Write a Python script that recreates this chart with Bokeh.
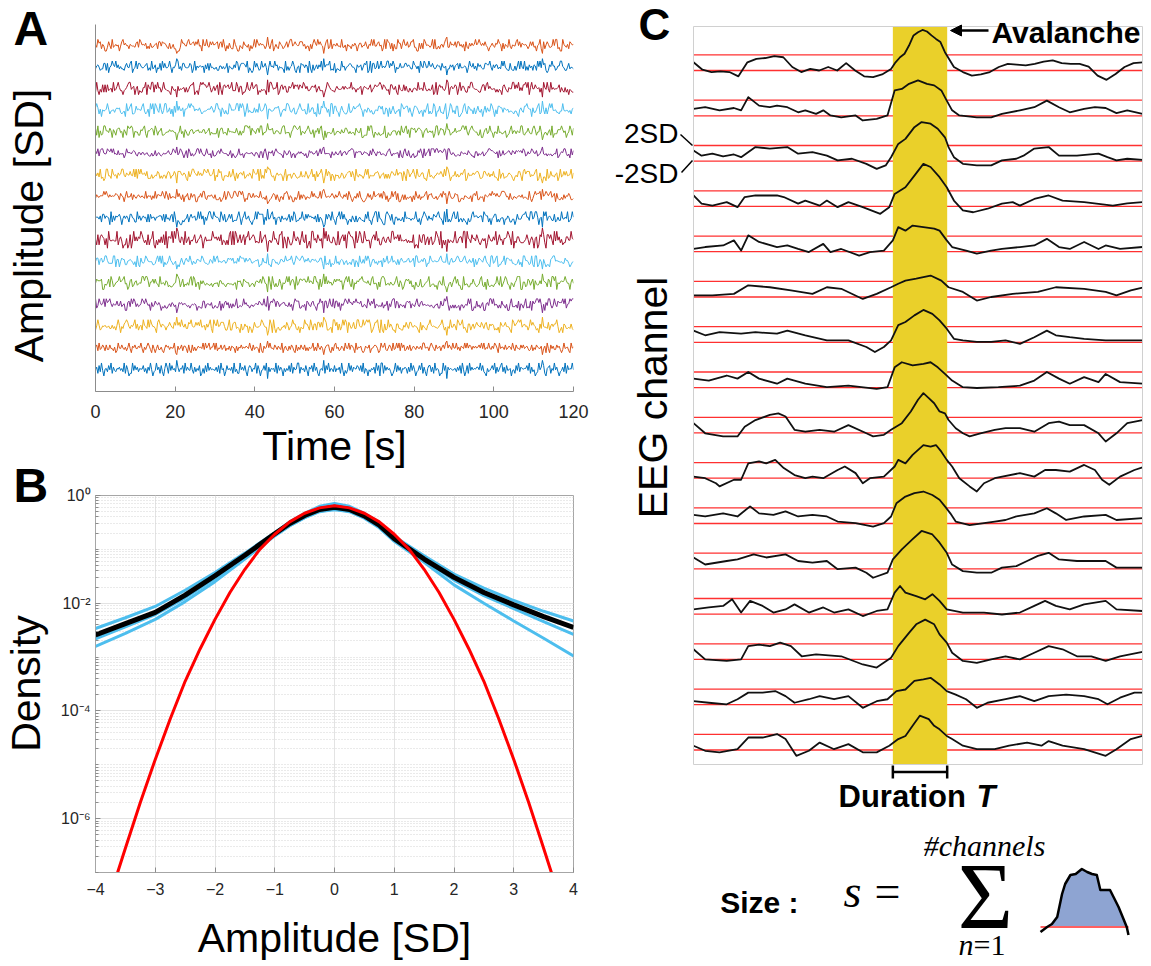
import numpy as np
from bokeh.plotting import figure
from bokeh.layouts import row, column
from bokeh.models import Range1d, FixedTicker, Label, Arrow, NormalHead, CustomJSTickFormatter
from bokeh.embed import file_html
from bokeh.resources import INLINE

SANS = "Liberation Sans"
SERIF = "Liberation Serif"
GREY = "#8c8c8c"
DARK = "#262626"

# ---------------- Panel A data ----------------
A_TICKS = [0, 20, 40, 60, 80, 100, 120]
A_COLORS = ["#0072BD", "#D95319", "#EDB120", "#7E2F8E", "#77AC30", "#4DBEEE", "#A2142F"]
A_AMP = [1.0, 0.75, 1.0, 0.9, 1.0, 0.85, 1.3, 1.0, 0.8, 0.9, 0.7, 0.9, 1.0, 0.95, 0.9, 0.9]
A_OFFSET = [0, 37, 91, 143, 211, 267, 318, 359, 23, 77, 129, 181, 233, 289, 341, 397]
A_STRIDE = [1, 3, 7, 9, 11, 13, 17, 19, 21, 23, 27, 29, 31, 33, 37, 39]
A_LEVELS = [-1.0, -0.6, -0.35, -0.15, -0.05, 0.05, 0.15, 0.35, 0.6, 1.0]
A_NOISE = ("4718293056" "2849173265" "7362918401" "1938472655" "8261739402"
           "3947182069" "7193846257" "2658193743" "9417263801" "6182937454"
           "3728194602" "8463719251" "1947382068" "7265918403" "4839172656"
           "2918374062" "6382917459" "9174628307" "5829371046" "3718492652"
           "8264719303" "1493827658" "7382916404" "2647193809" "9183746201"
           "4928371657" "6172938402" "3849172068" "8271936401" "1938274653"
           "5627381940" "2819374657" "7493821062" "3684917258" "9271834603"
           "4183927656" "6839172401" "2947381067" "8163947202" "3729184659")
A_SPIKE_T = [20.4, 43.2, 57.3, 88.2, 112.2]
A_DT = 0.3
A_SCALE = 0.3

# ---------------- Panel B data (log10 density) ----------------
B_XTICKS = [-4, -3, -2, -1, 0, 1, 2, 3, 4]
B_YTICKS = [1e-6, 1e-4, 1e-2, 1e0]
B_X = [-4, -3.5, -3, -2.5, -2, -1.5, -1, -0.75, -0.5, -0.25, 0, 0.25, 0.5, 0.75, 1, 1.5, 2, 2.5, 3, 3.5, 4]
B_BLACK = [-2.59, -2.38, -2.17, -1.85, -1.49, -1.11, -0.71, -0.52, -0.37, -0.26, -0.22, -0.26, -0.38, -0.55, -0.8, -1.18, -1.52, -1.8, -2.03, -2.25, -2.45]
B_BLUE1 = [-2.47, -2.27, -2.06, -1.76, -1.43, -1.07, -0.69, -0.49, -0.33, -0.2, -0.15, -0.2, -0.33, -0.5, -0.76, -1.12, -1.46, -1.72, -1.95, -2.15, -2.33]
B_BLUE2 = [-2.66, -2.44, -2.21, -1.9, -1.54, -1.15, -0.74, -0.56, -0.41, -0.29, -0.26, -0.29, -0.41, -0.58, -0.82, -1.2, -1.57, -1.86, -2.1, -2.34, -2.58]
B_BLUE3 = [-2.8, -2.56, -2.3, -1.97, -1.6, -1.18, -0.75, -0.56, -0.41, -0.3, -0.26, -0.3, -0.42, -0.6, -0.85, -1.24, -1.66, -2.0, -2.33, -2.65, -2.98]
B_RX = [-3.63, -3.5, -3.25, -3, -2.75, -2.5, -2.25, -2, -1.75, -1.5, -1.25, -1, -0.75, -0.5, -0.25, 0,
        0.25, 0.5, 0.75, 1, 1.25, 1.5, 1.75, 2, 2.25, 2.5, 2.75, 3, 3.25, 3.5, 3.63]
B_RED = [-7.0, -6.55, -5.7, -4.9, -4.15, -3.45, -2.85, -2.3, -1.8, -1.37, -1.0, -0.72, -0.49, -0.33, -0.23, -0.19,
         -0.23, -0.33, -0.49, -0.72, -1.0, -1.37, -1.8, -2.3, -2.85, -3.45, -4.15, -4.9, -5.7, -6.55, -7.0]

# ---------------- Panel C data (time, amplitude in SD) ----------------
C_BAND = [44.4, 56.5]
C_THR = 2.0
C_CH01 = [(0,0.1),(2,-1.8),(4,-2.4),(6,-2.2),(8,-2.4),(10,-3.5),(12,0.1),(14,1.0),(16,1.2),(18,1.7),(20,1.4),(22,-1.1),(24,-2.4),(26,-1.6),(28,-2.0),(30,-1.1),(32,-2.0),(34,-0.1),(36,-2.0),(38,-3.5),(40,-3.7),(42,-3.0),(44,-1.6),(45,0.1),(46,1.4),(47,2.3),(48,4.4),(49,7.0),(50,7.8),(51,8.4),(52,8.0),(53,7.0),(54,6.1),(55,5.3),(56,2.7),(58,-1.1),(60,-2.4),(62,-3.3),(64,-3.0),(66,-2.4),(68,-1.1),(70,-0.3),(72,-0.5),(74,-0.7),(76,-0.3),(78,0.3),(80,0.6),(82,-0.1),(84,-0.3),(86,-0.3),(88,-1.0),(90,-3.3),(92,-4.4),(94,-2.9),(96,-1.1),(98,-0.1),(100,0.1)]
C_CH02 = [(0,-0.2),(2.6,0.2),(5.8,-0.6),(9.0,0.0),(10.6,-0.6),(12.2,2.8),(14.6,0.6),(17.0,0.2),(18.6,0.6),(20.9,0.2),(23.3,-1.1),(24.9,-0.6),(27.3,-1.5),(28.9,-0.6),(30.5,-1.9),(32.9,-2.4),(36.1,-1.9),(37.7,-3.2),(40.8,-2.8),(43.2,-1.9),(44.8,4.5),(46.4,4.9),(48.0,6.2),(50.0,7.1),(52.0,6.2),(53.6,5.8),(55.2,4.5),(56.4,1.9),(57.6,-0.6),(59.2,-1.9),(63.1,-2.4),(66.3,-2.4),(68.7,-1.5),(72.7,-0.6),(75.9,0.2),(78.7,1.9),(81.4,0.2),(83.8,-1.1),(87.0,-0.2),(89.4,0.2),(91.8,0.0),(94.2,-1.3),(96.6,-0.6),(100,-1.5)]
C_CH03 = [(0,0.7),(1.8,-0.6),(4.2,-0.1),(6.6,-0.8),(9.0,-0.3),(10.6,-1.0),(13.8,1.6),(17.0,1.2),(20.9,1.6),(23.3,-0.1),(26.5,0.3),(29.7,-0.6),(32.1,-1.8),(35.3,-1.4),(38.5,-2.7),(40.8,-4.0),(42.8,-3.1),(44.0,-1.0),(45.6,2.4),(47.2,3.7),(49.2,6.7),(50.8,8.0),(52.8,7.6),(54.4,6.3),(56.0,4.1),(56.8,1.6),(58.0,-1.0),(60.0,-2.7),(63.1,-3.1),(66.3,-3.1),(68.7,-1.8),(71.9,-1.4),(73.5,-0.6),(75.9,1.2),(79.1,1.6),(81.4,-0.6),(85.4,-0.6),(90.2,-0.1),(92.2,-1.0),(94.2,-1.8),(96.6,-1.4),(100,-1.7)]
C_CH04 = [(0,0.8),(1.8,-1.3),(4.2,-1.8),(7.4,-0.9),(9.8,-2.2),(11.4,0.4),(13.8,0.8),(18.6,0.8),(20.1,0.4),(23.3,-1.3),(24.9,-0.5),(28.1,-1.8),(29.7,-0.5),(32.1,-2.2),(34.5,-0.9),(37.7,-2.2),(41.6,-3.9),(43.6,-2.2),(44.8,1.2),(47.2,2.9),(49.2,5.9),(51.2,8.9),(52.8,8.1),(54.8,5.5),(56.4,2.9),(58.0,-0.5),(60.0,-3.0),(62.3,-3.5),(65.5,-2.6),(68.7,-1.3),(71.1,-0.9),(72.7,-1.8),(75.9,-0.1),(79.1,0.8),(82.2,-0.5),(87.0,-0.9),(93.4,-1.8),(96.6,-1.2),(100,-0.9)]
C_CH05 = [(0,-1.3),(2.6,-0.8),(6.6,-0.4),(9.0,0.9),(10.6,-1.7),(12.2,2.2),(14.6,0.5),(18.6,-0.8),(20.9,-0.4),(23.3,-1.3),(25.7,-2.1),(28.9,0.0),(30.5,-2.1),(32.9,-1.3),(36.9,-3.0),(39.3,-2.1),(42.4,-1.7),(44.4,0.9),(45.6,4.3),(47.2,3.4),(48.8,4.7),(51.2,4.3),(53.6,3.9),(54.8,3.4),(56.4,0.9),(57.6,-0.8),(60.7,-1.7),(63.1,-2.5),(66.3,-1.7),(68.7,-1.3),(72.7,-0.8),(75.9,-0.4),(78.7,1.3),(81.4,-0.8),(83.8,-1.3),(87.0,0.5),(90.2,-1.3),(91.8,-0.4),(95.0,-1.3),(100,-0.8)]
C_CH06 = [(0,-1.6),(4.2,-1.6),(9.0,-1.2),(12.2,1.0),(17.0,0.5),(21.7,-0.3),(26.5,-1.2),(29.7,0.5),(32.9,0.1),(37.7,-2.5),(40.8,-1.2),(44.0,0.5),(45.6,1.4),(47.2,2.2),(49.6,2.7),(52.8,3.5),(55.2,2.2),(56.8,0.5),(60.0,-0.7),(63.1,-2.9),(66.3,-2.0),(71.1,-1.2),(76.7,-0.7),(80.7,0.5),(87.0,0.1),(91.8,-0.7),(94.2,-1.6),(97.4,-0.3),(100,0.4)]
C_CH07 = [(0,1.0),(2.6,-0.2),(5.8,0.6),(10.6,0.2),(13.8,0.6),(18.6,0.2),(20.9,1.0),(24.9,-0.2),(29.7,-1.5),(34.5,-1.5),(38.5,-3.2),(40.4,-4.5),(42.4,-3.2),(44.0,-1.5),(45.6,2.4),(47.2,3.2),(49.2,4.9),(51.2,6.3),(53.2,5.3),(54.8,3.6),(56.4,1.5),(58.0,-1.1),(60.0,-1.5),(63.1,-1.9),(66.3,-1.9),(69.5,-1.5),(72.7,-2.4),(75.9,-0.7),(78.7,1.0),(80.7,-0.2),(83.8,-0.7),(87.0,-1.1),(91.8,-1.5),(100,-1.5)]
C_CH08 = [(0,0.3),(3.4,-0.2),(7.4,1.1),(9.8,0.3),(12.2,2.0),(14.6,0.3),(18.6,-1.0),(20.9,0.3),(24.9,-1.0),(29.7,-1.9),(34.5,-1.5),(40.8,-2.3),(43.2,-1.9),(44.8,3.2),(46.4,4.5),(48.8,3.7),(51.2,4.1),(52.8,4.5),(54.4,3.2),(56.0,1.5),(57.6,-0.2),(60.0,-1.9),(63.1,-2.1),(67.9,-1.9),(72.7,-1.5),(75.9,-0.2),(78.7,2.0),(81.4,0.3),(83.8,-1.0),(87.0,0.7),(90.2,-0.6),(91.8,1.5),(95.0,-0.6),(100,-1.0)]
C_CH09 = [(0,0.5),(2.6,-2.1),(6.6,-2.9),(9.8,-2.9),(11.4,-0.4),(13.8,1.3),(17.0,2.6),(18.9,3.0),(20.5,2.2),(22.5,-1.2),(24.9,-1.7),(28.1,-1.2),(31.3,-1.7),(34.5,0.0),(38.5,-2.1),(40.0,-2.9),(42.4,-2.5),(44.0,-1.2),(46.4,0.5),(48.4,3.5),(50.0,6.5),(51.2,8.2),(52.4,6.9),(53.6,5.6),(54.8,3.5),(56.0,3.0),(56.8,1.3),(58.4,-0.8),(60.0,-2.1),(61.5,-2.9),(63.9,-2.1),(67.1,-1.2),(69.5,-0.8),(72.7,-0.8),(75.9,-1.7),(79.1,0.5),(81.4,0.9),(83.8,0.0),(87.0,0.0),(90.2,-2.1),(91.8,-4.2),(94.2,-2.1),(96.6,0.5),(100,1.3)]
C_CH10 = [(0,-1.6),(2.6,-2.0),(5.0,-3.3),(5.8,-4.1),(9.0,-2.4),(10.6,-2.4),(12.2,1.8),(14.6,2.3),(16.2,1.8),(18.2,2.7),(20.1,0.6),(22.5,-1.2),(24.9,-2.0),(26.5,-1.6),(28.9,-2.0),(32.1,0.1),(33.7,1.0),(36.1,-0.7),(37.7,-3.3),(39.3,-2.0),(42.4,-1.6),(44.8,1.0),(45.6,2.7),(47.2,1.8),(48.8,4.0),(51.2,6.5),(52.8,6.1),(54.0,6.5),(55.2,4.8),(56.4,2.7),(57.6,1.0),(59.2,-2.0),(61.5,-4.1),(63.1,-5.4),(64.7,-3.3),(67.1,-2.0),(72.7,-0.7),(75.9,-1.6),(78.3,0.1),(80.7,0.1),(83.8,-0.3),(87.0,1.4),(89.4,0.1),(91.0,-2.4),(92.6,-3.7),(95.0,-1.6),(98.2,0.1),(100,0.8)]
C_CH11 = [(0,0.2),(2.6,-0.2),(6.6,0.6),(9.8,-0.2),(12.6,2.4),(14.6,0.6),(17.8,0.2),(20.5,1.1),(23.3,-0.2),(26.5,0.2),(29.7,-0.2),(32.1,-1.5),(36.1,-1.9),(40.0,-2.8),(42.4,-1.9),(44.0,-0.2),(45.2,3.2),(47.2,4.9),(49.2,5.8),(51.2,6.2),(53.2,5.3),(54.8,4.1),(56.0,2.4),(57.2,0.6),(58.4,-1.5),(61.5,-2.4),(64.7,-1.9),(67.1,-1.5),(69.5,-1.1),(71.9,-0.2),(75.9,0.6),(78.7,1.9),(80.7,0.6),(83.0,-1.1),(87.0,-0.2),(91.8,0.2),(94.2,-1.1),(100,-0.6)]
C_CH12 = [(0,0.9),(2.6,-0.9),(7.4,0.0),(9.8,0.4),(13.4,1.7),(16.2,0.9),(20.5,1.7),(23.3,0.0),(26.5,-0.4),(29.7,0.0),(32.1,-2.1),(36.1,-1.7),(38.5,-3.0),(40.0,-4.3),(43.2,-3.0),(44.4,0.4),(46.4,3.0),(48.8,5.6),(50.8,7.7),(53.2,6.8),(54.8,4.7),(56.4,2.1),(57.6,-0.9),(60.0,-2.6),(63.1,-3.0),(66.3,-3.0),(68.7,-1.7),(71.9,-1.3),(74.3,0.0),(76.7,1.3),(79.1,2.1),(81.4,0.4),(85.4,0.0),(91.8,0.0),(94.2,-1.7),(100,-1.7)]
C_CH13 = [(0,-0.8),(3.4,-0.3),(6.6,0.1),(8.6,1.8),(10.6,-1.6),(12.6,1.4),(15.4,0.1),(17.8,-1.6),(20.5,-0.8),(22.5,0.5),(25.7,-1.6),(28.9,-0.3),(31.3,-1.6),(34.5,-0.8),(37.7,-2.5),(40.8,-1.2),(43.2,-0.8),(44.8,3.5),(46.0,5.2),(47.2,3.5),(49.6,2.6),(51.6,1.8),(53.2,3.1),(54.8,1.4),(56.4,-0.8),(60.0,-1.6),(64.7,-1.6),(68.7,-2.1),(72.7,-1.6),(75.9,0.1),(78.3,1.4),(80.7,0.1),(83.8,-0.8),(87.0,0.5),(91.8,1.4),(94.2,-0.8),(100,-1.2)]
C_CH14 = [(0,0.6),(2.6,-2.0),(7.4,-2.4),(10.6,-2.0),(12.2,1.4),(14.6,1.8),(17.0,1.4),(19.3,2.3),(21.7,1.4),(24.1,-1.2),(27.3,-0.7),(32.9,-1.2),(37.7,-3.3),(40.8,-4.1),(44.0,-1.6),(45.6,1.4),(48.0,4.8),(49.6,7.0),(51.6,8.2),(53.6,7.0),(54.8,4.4),(56.4,2.3),(57.6,-0.3),(60.0,-2.4),(63.1,-2.9),(66.3,-2.0),(69.5,-1.2),(72.7,-2.0),(75.9,-0.3),(79.1,1.4),(82.2,0.6),(85.4,-1.2),(88.6,-1.2),(91.8,-2.4),(95.0,-1.2),(100,-0.1)]
C_CH15 = [(0,-1.1),(3.4,-1.5),(7.4,-1.9),(9.8,-0.6),(12.2,1.1),(15.4,1.1),(18.2,1.5),(20.5,0.2),(22.5,-1.5),(25.7,-0.6),(28.1,0.2),(31.3,-0.6),(34.5,0.2),(37.7,-2.8),(40.8,-1.1),(43.2,-0.6),(45.2,1.5),(47.2,1.9),(49.2,4.1),(51.2,4.5),(52.8,4.9),(54.8,3.2),(56.4,1.5),(58.4,0.6),(60.7,-0.6),(63.1,-2.8),(65.5,-1.5),(69.5,-0.6),(72.7,0.2),(75.9,-1.1),(79.1,0.2),(83.0,0.6),(87.0,0.2),(90.2,-0.6),(92.2,-1.9),(95.0,-0.2),(98.2,1.1),(100,1.1)]
C_CH16 = [(0,-0.9),(2.6,-2.2),(5.8,-2.6),(9.8,-1.8),(12.2,1.2),(15.4,1.2),(18.6,2.1),(20.5,0.8),(22.9,-3.5),(25.7,-2.2),(28.1,-0.1),(31.3,-1.8),(34.5,-0.5),(37.7,-2.6),(40.8,-2.6),(43.6,-0.9),(45.6,0.8),(47.2,1.6),(48.8,4.2),(50.4,6.8),(52.4,5.9),(53.6,4.2),(54.8,3.3),(56.4,1.6),(57.6,0.8),(60.0,-0.9),(63.1,-1.8),(67.1,-1.8),(70.3,-0.9),(74.3,-0.1),(77.5,-0.9),(79.1,0.3),(82.2,-0.9),(87.0,-1.8),(91.8,-3.5),(94.2,-1.8),(97.4,0.8),(100,1.6)]
C_CHANNELS = [C_CH01, C_CH02, C_CH03, C_CH04, C_CH05, C_CH06, C_CH07, C_CH08,
              C_CH09, C_CH10, C_CH11, C_CH12, C_CH13, C_CH14, C_CH15, C_CH16]

# avalanche pictogram of the size formula (relative width, height above threshold in px)
ICON_U = [0, 0.075, 0.13, 0.19, 0.245, 0.28, 0.34, 0.40, 0.47, 0.53, 0.585, 0.64, 0.68, 0.735, 0.79, 0.83, 0.887, 0.943, 0.98, 1.0]
ICON_H = [-5, 0, 3, 10, 33, 43, 52, 53, 58, 55, 53, 52, 37, 37, 37, 30, 20, 8, 0, -8]

# ---------------- layout geometry (page pixels) ----------------
PAGE_W, PAGE_H = 1151, 966
S_W = 55                       # strip holding the panel letters / y titles of A and B
A_FRAME = dict(left=40, right=25, top=24, bottom=87)    # frame 478 x 367
B_FRAME = dict(left=40, right=25, top=17, bottom=94)    # frame 478 x 377
A_FIG_H, B_FIG_H = 478, 488
R_X0 = 598                     # page x where the right-hand panel starts
C_L, C_W = 693, 449            # box of panel C in page px
C_PX_PER_SD = 3.9
C_ROW0 = 62.2                  # page y of first channel centre
C_SPACING = 45.3 / C_PX_PER_SD


def s_pt(px, py):
    return (px, PAGE_H - py)


def c_pt(px, py):
    return ((px - C_L) / C_W * 100.0, -(py - C_ROW0) / C_PX_PER_SD)


def lab(p, pt, text, size, align="left", angle=0.0, style="normal", font=SANS, color="#000000"):
    # pt is the vertical centre of the capital letters
    p.add_layout(Label(x=pt[0], y=pt[1], text=text, text_font=font, text_font_size=f"{size}px",
                       text_align=align, text_baseline="middle", angle=angle,
                       text_font_style=style, text_color=color))


common = dict(output_backend="svg", toolbar_location=None, background_fill_color="white",
              border_fill_color="white")

# ================= strip with letters and y titles =================
pS = figure(width=S_W, height=PAGE_H, x_range=Range1d(0, S_W), y_range=Range1d(0, PAGE_H),
            x_axis_location=None, y_axis_location=None, min_border=0,
            min_border_left=0, min_border_right=0, min_border_top=0, min_border_bottom=0, **common)
pS.outline_line_color = None
pS.grid.visible = False
lab(pS, s_pt(13, 28), "A", 48, style="bold")
lab(pS, s_pt(28, 225), "Amplitude [SD]", 41, align="center", angle=np.pi / 2)
lab(pS, s_pt(13, 485), "B", 48, style="bold")
lab(pS, s_pt(25, 683), "Density", 41, align="center", angle=np.pi / 2)

# ================= Panel A =================
pA = figure(width=R_X0 - S_W, height=A_FIG_H, x_range=Range1d(0, 120),
            y_range=Range1d(-1.02, 15.96),
            min_border_left=A_FRAME["left"], min_border_right=A_FRAME["right"],
            min_border_top=A_FRAME["top"], min_border_bottom=A_FRAME["bottom"], **common)
pA.outline_line_color = None
pA.grid.visible = False
pA.xaxis.ticker = FixedTicker(ticks=A_TICKS, minor_ticks=[])
pA.xaxis.major_label_text_font = SANS
pA.xaxis.major_label_text_font_size = "18px"
pA.xaxis.major_label_text_color = DARK
pA.xaxis.major_label_standoff = 13
pA.xaxis.major_tick_in = 5
pA.xaxis.major_tick_out = 0
pA.xaxis.minor_tick_line_color = None
pA.xaxis.axis_line_color = GREY
pA.xaxis.major_tick_line_color = GREY
pA.xaxis.axis_label = "Time [s]"
pA.xaxis.axis_label_text_font = SANS
pA.xaxis.axis_label_text_font_size = "41px"
pA.xaxis.axis_label_text_font_style = "normal"
pA.xaxis.axis_label_text_color = "#000000"
pA.xaxis.axis_label_standoff = 2
pA.yaxis.ticker = FixedTicker(ticks=[], minor_ticks=[])
pA.yaxis.axis_line_color = GREY
pA.yaxis.major_tick_line_color = None
pA.yaxis.minor_tick_line_color = None

n_samp = int(round(120 / A_DT)) + 1
t_a = np.arange(n_samp) * A_DT
spike_idx = [int(round(s / A_DT)) for s in A_SPIKE_T]
for i in range(16):
    idx = [(A_OFFSET[i] + j * A_STRIDE[i]) % len(A_NOISE) for j in range(n_samp)]
    vals = np.array([A_LEVELS[int(A_NOISE[k])] for k in idx]) * A_SCALE * A_AMP[i]
    for s, si in enumerate(spike_idx):
        vals[si] = (1 if (i + s) % 2 == 0 else -1) * 1.4 * A_SCALE * A_AMP[i]
    pA.line(t_a, vals + i, line_color=A_COLORS[i % 7], line_width=1.0)

# ================= Panel B =================
pB = figure(width=R_X0 - S_W, height=B_FIG_H, x_range=Range1d(-4, 4),
            y_range=Range1d(1e-7, 1), y_axis_type="log",
            min_border_left=B_FRAME["left"], min_border_right=B_FRAME["right"],
            min_border_top=B_FRAME["top"], min_border_bottom=B_FRAME["bottom"], **common)
pB.outline_line_color = "#a6a6a6"
ytk = FixedTicker(ticks=B_YTICKS, minor_ticks=[m * 10.0 ** e for e in range(-7, 0) for m in range(1, 10)])
xtk = FixedTicker(ticks=B_XTICKS, minor_ticks=[])
pB.yaxis.ticker = ytk
pB.xaxis.ticker = xtk
pB.ygrid.ticker = ytk
pB.xgrid.ticker = xtk
pB.yaxis.formatter = CustomJSTickFormatter(code="""
const e = Math.round(Math.log10(tick));
const m = {"-": "\u207b", "0": "\u2070", "1": "\u00b9", "2": "\u00b2", "3": "\u00b3", "4": "\u2074",
           "5": "\u2075", "6": "\u2076", "7": "\u2077", "8": "\u2078", "9": "\u2079"};
return "10" + String(e).split("").map(c => m[c]).join("");
""")
for ax in (pB.xaxis, pB.yaxis):
    ax.major_label_text_font = SANS
    ax.major_label_text_color = DARK
    ax.major_tick_in = 5
    ax.major_tick_out = 0
    ax.minor_tick_in = 3
    ax.minor_tick_out = 0
    ax.axis_line_color = "#a6a6a6"
    ax.major_tick_line_color = "#8c8c8c"
    ax.minor_tick_line_color = "#8c8c8c"
pB.xaxis.major_label_text_font_size = "16px"
pB.xaxis.major_label_standoff = 10
pB.yaxis.major_label_text_font_size = "16px"
pB.yaxis.major_label_standoff = 5
pB.xaxis.axis_label = "Amplitude [SD]"
pB.xaxis.axis_label_text_font = SANS
pB.xaxis.axis_label_text_font_size = "41px"
pB.xaxis.axis_label_text_font_style = "normal"
pB.xaxis.axis_label_text_color = "#000000"
pB.xaxis.axis_label_standoff = 17
pB.xgrid.grid_line_color = "#e3e3e3"
pB.ygrid.grid_line_color = "#e3e3e3"
pB.ygrid.minor_grid_line_color = "#d4d4d4"
pB.ygrid.minor_grid_line_dash = "1 2"

for series in (B_BLUE3, B_BLUE2, B_BLUE1):
    pB.line(B_X, 10 ** np.array(series), line_color="#4DBEEE", line_width=3)
pB.line(B_X, 10 ** np.array(B_BLACK), line_color="#000000", line_width=5)
pB.line(B_RX, 10 ** np.array(B_RED), line_color="#FF0000", line_width=3)

# ================= Panel C + size formula =================
x_lo, y_hi = c_pt(R_X0, 0)
x_hi, y_lo = c_pt(PAGE_W, PAGE_H)
pR = figure(width=PAGE_W - R_X0, height=PAGE_H, x_range=Range1d(x_lo, x_hi), y_range=Range1d(y_lo, y_hi),
            x_axis_location=None, y_axis_location=None, min_border=0,
            min_border_left=0, min_border_right=0, min_border_top=0, min_border_bottom=0, **common)
pR.outline_line_color = None
pR.grid.visible = False

C_YTOP = c_pt(0, 26)[1]
C_YBOT = c_pt(0, 764)[1]
centers = [-k * C_SPACING for k in range(16)]
ry = [c + C_THR for c in centers] + [c - C_THR for c in centers]
pR.segment(x0=[0] * len(ry), x1=[100] * len(ry), y0=ry, y1=ry,
           line_color="#FF1A1A", line_width=1.3, line_alpha=0.9)
pR.quad(left=[C_BAND[0]], right=[C_BAND[1]], bottom=[C_YBOT], top=[C_YTOP],
        fill_color="#EAD02A", line_color=None)
for k, ch in enumerate(C_CHANNELS):
    pR.line([p[0] for p in ch], [p[1] + centers[k] for p in ch],
            line_color="#111111", line_width=1.8, line_join="round")
# axes box of panel C
pR.quad(left=[0], right=[100], bottom=[C_YBOT], top=[C_YTOP], fill_color=None,
        line_color="#d0d0d0", line_width=1)

lab(pR, c_pt(638, 24), "C", 44, style="bold")
lab(pR, c_pt(652, 397), "EEG channel", 41, align="center", angle=np.pi / 2)
lab(pR, c_pt(991, 32), "Avalanche", 30, style="bold")
sx0, sy0 = c_pt(988, 30)
sx1, sy1 = c_pt(950, 30)
pR.add_layout(Arrow(end=NormalHead(size=11, fill_color="black", line_color="black"),
                    x_start=sx0, y_start=sy0, x_end=sx1, y_end=sy1, line_width=2.5, line_color="black"))
lab(pR, c_pt(678, 133), "2SD", 28, align="right")
lab(pR, c_pt(678, 173), "-2SD", 28, align="right")
for (p0, p1) in (((680, 134), (692, 145)), ((681, 172), (692, 160))):
    a0 = c_pt(*p0)
    a1 = c_pt(*p1)
    pR.segment(x0=[a0[0]], y0=[a0[1]], x1=[a1[0]], y1=[a1[1]], line_width=1.5, line_color="black")

# duration bracket below the band
by0 = c_pt(0, 765)[1]
by1 = c_pt(0, 778)[1]
bym = c_pt(0, 771.5)[1]
pR.segment(x0=[C_BAND[0], C_BAND[0], C_BAND[1]], x1=[C_BAND[1], C_BAND[0], C_BAND[1]],
           y0=[bym, by0, by0], y1=[bym, by1, by1], line_color="black", line_width=2.5)
lab(pR, c_pt(838, 796), "Duration", 31, style="bold")
lab(pR, c_pt(976, 796), "T", 31, style="bold italic")

# size formula
lab(pR, c_pt(798, 902), "Size :", 30, align="right", style="bold")
lab(pR, c_pt(843, 891), "s", 46, style="italic", font=SERIF)
lab(pR, c_pt(874, 891), "=", 46, font=SERIF)
lab(pR, c_pt(985, 896), "\u03a3", 95, align="center", font=SERIF)
lab(pR, c_pt(984, 845), "#channels", 30, align="center", style="italic", font=SERIF)
lab(pR, c_pt(958, 944), "n", 30, style="italic", font=SERIF)
lab(pR, c_pt(973, 944), "=1", 30, font=SERIF)

icon_base = 926.5
ix = [c_pt(1040 + u * 88, 0)[0] for u in ICON_U]
iy = [c_pt(0, icon_base - h)[1] for h in ICON_H]
iy_fill = [c_pt(0, icon_base - max(h, 0))[1] for h in ICON_H]
base_y = c_pt(0, icon_base)[1]
pR.varea(x=ix, y1=[base_y] * len(ix), y2=iy_fill, fill_color="#8EA4D2")
pR.line([ix[0], ix[-1]], [base_y, base_y], line_color="#FF6060", line_width=2)
pR.line(ix, iy, line_color="black", line_width=2.5, line_join="round")

layout = row(pS, column(pA, pB), pR)
html = file_html(layout, INLINE, title="EEG avalanches")
open("out.html", "w", encoding="utf-8").write(html)
